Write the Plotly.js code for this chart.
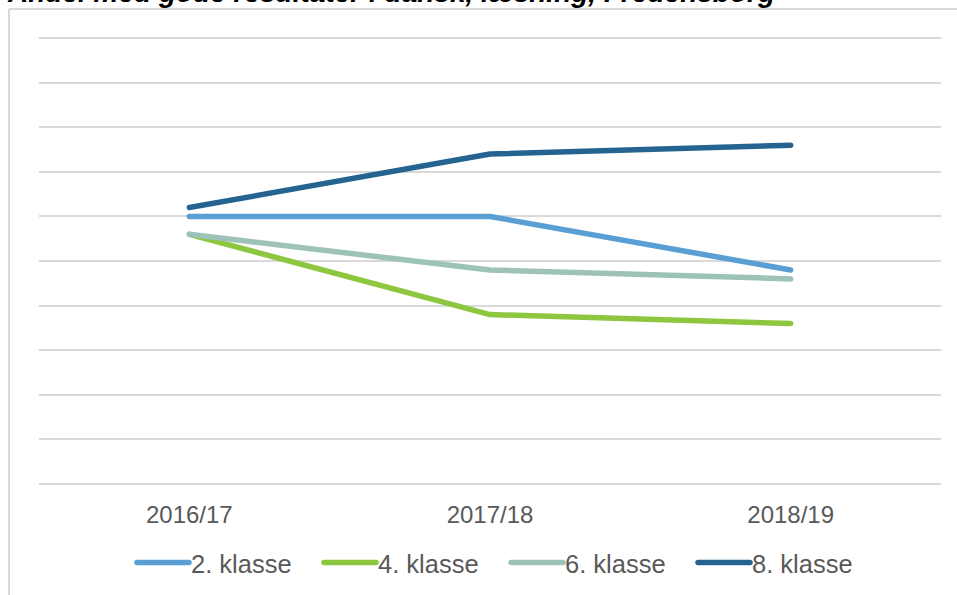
<!DOCTYPE html>
<html>
<head>
<meta charset="utf-8">
<script src="https://cdn.plot.ly/plotly-3.0.1.min.js"></script>
<style>
  html, body { margin: 0; padding: 0; background: #fff; }
  #chart { width: 957px; height: 595px; }
  .js-line, .legendlines path { stroke-linecap: round !important; stroke-linejoin: round !important; }
</style>
</head>
<body>
<div id="chart"></div>
<script>
const categories = ["2016/17", "2017/18", "2018/19"];
const seriesNames = ["2. klasse", "4. klasse", "6. klasse", "8. klasse"];
const klasse2 = [60, 60, 48];
const klasse4 = [56, 38, 36];
const klasse6 = [56, 48, 46];
const klasse8 = [62, 74, 76];
const seriesColors = ["#5a9fd4", "#8dc63f", "#9dc3b8", "#256390"];
const titleText = "Andel med gode resultater i dansk, læsning, Fredensborg";

const values = [klasse2, klasse4, klasse6, klasse8];
const traces = values.map((v, i) => ({
  type: "scatter",
  mode: "lines",
  x: categories,
  y: v,
  name: seriesNames[i],
  line: { color: seriesColors[i], width: 5.5 },
  hoverinfo: "skip"
}));

const W = 957, H = 595;
const m = { l: 39, r: 16, t: 37, b: 111, autoexpand: false };
const pw = W - m.l - m.r, ph = H - m.t - m.b;
const px = x => (x - m.l) / pw;
const py = y => (H - m.b - y) / ph;

const layout = {
  width: W, height: H,
  margin: m,
  paper_bgcolor: "#ffffff",
  plot_bgcolor: "#ffffff",
  font: { family: "Liberation Sans, Arial, sans-serif", color: "#595959" },
  showlegend: true,
  legend: {
    orientation: "h",
    x: px(128), xanchor: "left",
    y: py(563), yanchor: "middle",
    font: { size: 25.5, color: "#595959" },
    itemwidth: 53,
    entrywidth: 119,
    bgcolor: "rgba(0,0,0,0)"
  },
  xaxis: {
    type: "category",
    range: [-0.5, 2.5],
    showgrid: false,
    zeroline: false,
    showline: false,
    ticks: "",
    ticklabelstandoff: 14,
    tickfont: { size: 24, color: "#595959" },
    fixedrange: true
  },
  yaxis: {
    range: [0, 100.25],
    dtick: 10,
    showgrid: true,
    gridcolor: "#d9d9d9",
    gridwidth: 2,
    zeroline: true,
    zerolinecolor: "#d9d9d9",
    zerolinewidth: 2,
    showticklabels: false,
    ticks: "",
    fixedrange: true
  },
  shapes: [
    { type: "line", xref: "paper", yref: "paper", x0: px(9), x1: px(9), y0: py(9), y1: py(600), line: { color: "#d9d9d9", width: 2 } },
    { type: "line", xref: "paper", yref: "paper", x0: px(9), x1: px(960), y0: py(9), y1: py(9), line: { color: "#d9d9d9", width: 2 } }
  ],
  annotations: [
    {
      text: "<b><i>" + titleText + "</i></b>",
      xref: "paper", yref: "paper",
      x: px(5), xanchor: "left",
      y: py(10), yanchor: "bottom",
      showarrow: false,
      font: { size: 28, color: "#000000", family: "Liberation Sans, Arial, sans-serif" }
    }
  ]
};

function fixLegendLines() {
  const groups = document.querySelectorAll("#chart .legend .traces");
  groups.forEach(g => {
    const txt = g.querySelector("text.legendtext");
    const path = g.querySelector(".legendlines path");
    if (!txt || !path) return;
    const tx = parseFloat(txt.getAttribute("x")) || 40;
    path.setAttribute("d", "M" + (tx - 54) + ",0h52");
  });
}

Plotly.newPlot("chart", traces, layout, { displayModeBar: false, staticPlot: true }).then(fixLegendLines);
</script>
</body>
</html>
